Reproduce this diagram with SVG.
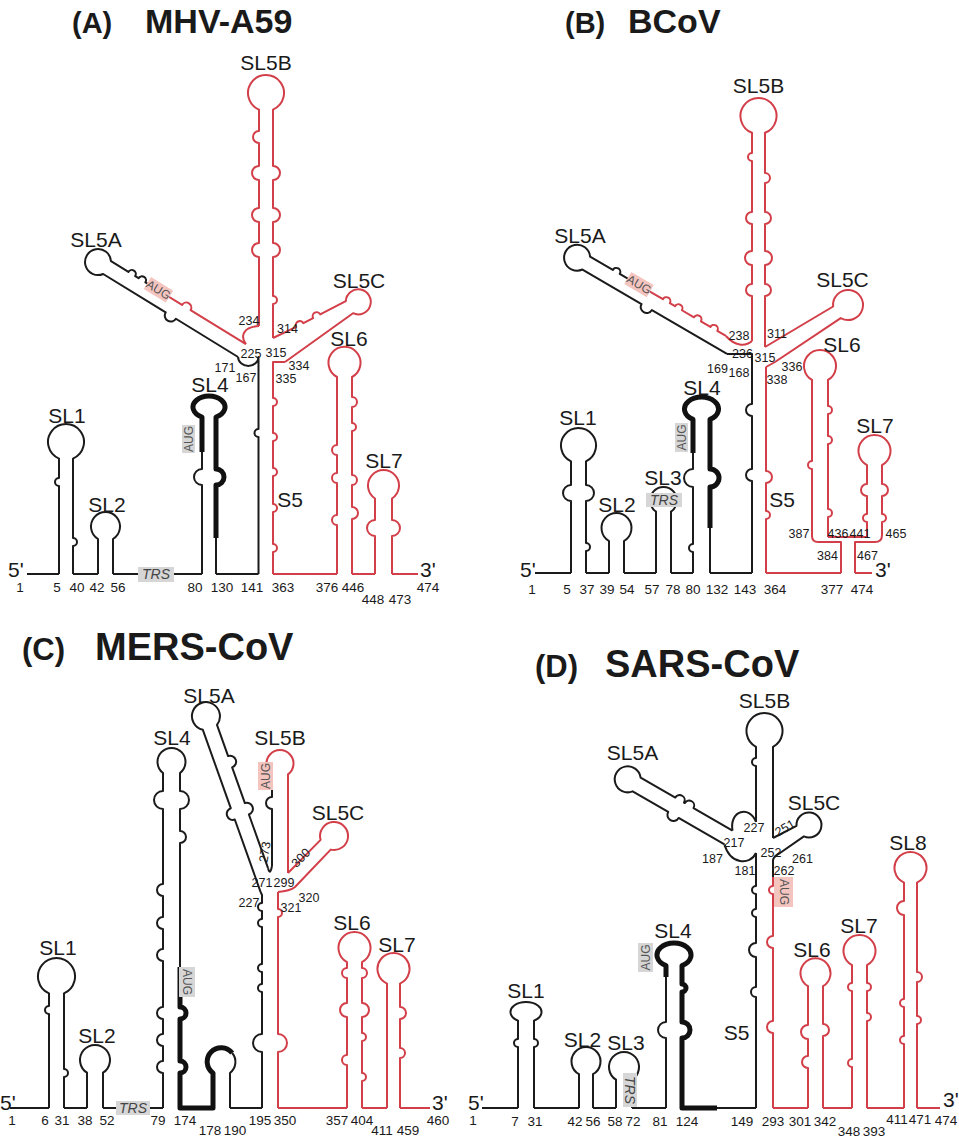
<svg xmlns="http://www.w3.org/2000/svg" width="959" height="1137" viewBox="0 0 959 1137">
<style>
.k{fill:none;stroke:#1b1b1b;stroke-width:2;stroke-linejoin:round}
.r{fill:none;stroke:#d33f49;stroke-width:2;stroke-linejoin:round}
.th{fill:none;stroke:#111;stroke-width:5;stroke-linejoin:round}
text{font-family:"Liberation Sans",Arial,sans-serif;fill:#1a1a1a}
.lb{font-size:21px;text-anchor:middle}
.ls{font-size:21px}
.n{font-size:13.5px;text-anchor:middle}
.nj{font-size:12.5px;text-anchor:middle}
.tt{font-weight:bold;font-size:34px}
.tp{font-weight:bold;font-size:29px}
.tt2{font-weight:bold;font-size:38px}
.tp2{font-weight:bold;font-size:31px}
.gb{fill:#d6d6d6}
.pb{fill:#f4c4bf}
.bx{font-size:12px;text-anchor:middle;fill:#555}
.trs{font-size:14px;font-style:italic;text-anchor:middle;fill:#444}
</style>
<rect width="959" height="1137" fill="#fff"/>

<!-- ================= PANEL A ================= -->
<g id="A-title"><text class="tp" x="72" y="33">(A)</text><text class="tt" x="145" y="33">MHV-A59</text></g>
<g id="A-connectors">
<path class="k" d="M27,574 H59 M73,574 H98 M113,574 H138 M174,574 H202 M216,574 H258.5"/>
<path class="r" d="M273,574 H337 M352,574 H375 M392,574 H418"/>
<path class="r" d="M245.9,344.2 C240,336 243,327 259,326"/>
<rect class="gb" x="138" y="567" width="36" height="15"/><text class="trs" x="156" y="579">TRS</text>
</g>
<g id="A-SL1"><path class="k" d="M59,574 V486 A4,4 0 0 1 59,478 V458.6 A18,18 0 1 1 73,458.6 V538 A4,4 0 0 1 73,546 V574"/><text class="lb" x="67" y="423">SL1</text></g>
<g id="A-SL2"><path class="k" d="M98,574 V539 A14.5,14.5 0 1 1 113,539 V574"/><text class="lb" x="107" y="512">SL2</text></g>
<g id="A-SL4">
<path class="k" d="M202,574 V485 A8,8 0 0 1 202,469 V452"/>
<path class="th" d="M202,452 V417 A16,11 0 1 1 216,417 V469 A8,8 0 0 1 216,485 V538"/>
<path class="k" d="M216,538 V574"/>
<rect class="gb" x="182" y="425" width="13" height="28"/><text class="bx" transform="translate(188.5,439) rotate(-90)" y="4">AUG</text>
<text class="lb" x="210" y="392">SL4</text></g>
<g id="A-SL5A" transform="translate(242,350.6) rotate(-58.4)">
<path class="k" d="M-7.5,0 V-73 A6,6 0 0 1 -7.5,-85 V-158.4 A13,13 0 1 1 7.5,-158.4 V-138 A4,4 0 0 1 7.5,-130 V-126 A4,4 0 0 1 7.5,-118 V-102"/>
<path class="r" d="M7.5,-102 V-75 A5,5 0 0 1 7.5,-65 V0"/>
<rect class="pb" x="1" y="-116" width="14" height="26"/><text class="bx" transform="translate(8,-103) rotate(90)" y="4">AUG</text>
</g>
<text class="lb" x="96" y="247">SL5A</text>
<g id="A-SL5B"><path class="r" d="M259,326 V257 A7,7 0 0 1 259,243 V222 A7,7 0 0 1 259,208 V180 A7,7 0 0 1 259,166 V143 A6,6 0 0 1 259,131 V109.6 A18,18 0 1 1 273,109.6 V166 A7,7 0 0 1 273,180 V208 A7,7 0 0 1 273,222 V243 A7,7 0 0 1 273,257 V296 A4,4 0 0 1 273,304 V338"/><text class="lb" x="266" y="70">SL5B</text></g>
<g id="A-SL5C"><path class="r" d="M273,338 L296.3,326.9 A4,4 0 0 1 303.4,323.2 L313.1,318.1 A4,4 0 0 1 320.2,314.4 L345.8,301.1 A12.5,12.5 0 1 1 353,313.2 L285,362"/><text class="lb" x="359" y="288">SL5C</text></g>
<g id="A-S5">
<path class="k" d="M238.1,357 A10.2,9 0 0 0 258.5,357 V429 A4,4 0 0 0 258.5,437 V574"/>
<path class="r" d="M285,362 H273 V398 A4,4 0 0 1 273,406 V433 A4,4 0 0 1 273,441 V468 A4,4 0 0 1 273,476 V504 A4,4 0 0 1 273,512 V544 A4,4 0 0 1 273,552 V574"/>
<text class="lb" x="290" y="507">S5</text></g>
<g id="A-SL6"><path class="r" d="M337,574 V525 A5,5 0 0 1 337,515 V483 A5,5 0 0 1 337,473 V455 A5,5 0 0 1 337,445 V377 A16,16 0 1 1 352,377 V397 A5,5 0 0 1 352,407 V423 A4,4 0 0 1 352,431 V475 A5,5 0 0 1 352,485 V507 A6,6 0 0 1 352,519 V574"/><text class="lb" x="349" y="346">SL6</text></g>
<g id="A-SL7"><path class="r" d="M375,574 V536 A8,8 0 0 1 375,520 V498.5 A15.5,15.5 0 1 1 392,498.5 V520 A8,8 0 0 1 392,536 V574"/><text class="lb" x="384" y="468">SL7</text></g>
<g id="A-labels">
<text class="ls" x="8" y="577">5'</text><text class="ls" x="420" y="577">3'</text>
<text class="n" x="20" y="592">1</text><text class="n" x="57" y="592">5</text><text class="n" x="77" y="592">40</text><text class="n" x="97" y="592">42</text><text class="n" x="118" y="592">56</text><text class="n" x="195" y="592">80</text><text class="n" x="222" y="592">130</text><text class="n" x="252" y="592">141</text><text class="n" x="283" y="592">363</text><text class="n" x="327" y="592">376</text><text class="n" x="353" y="592">446</text><text class="n" x="373" y="604">448</text><text class="n" x="400" y="604">473</text><text class="n" x="428" y="592">474</text>
<text class="nj" x="249" y="325">234</text><text class="nj" x="251" y="358">225</text><text class="nj" x="276" y="357">315</text><text class="nj" x="287.5" y="333">314</text><text class="nj" x="225" y="372">171</text><text class="nj" x="246" y="382">167</text><text class="nj" x="299" y="370">334</text><text class="nj" x="286" y="383">335</text>
</g>

<!-- ================= PANEL B ================= -->
<g id="B-title"><text class="tp" x="565" y="33">(B)</text><text class="tt" x="628" y="33">BCoV</text></g>
<g id="B-connectors">
<path class="k" d="M535,573 H571 M586,573 H609 M624,573 H656 M671,573 H693 M710,573 H752"/>
<path class="r" d="M766,573 H841 M855,573 H872 M841,573 V542 H818 Q812,542 812,536 M828,537 H867 M882,535 Q882,542 875,542 H855 V573"/>
<path class="r" d="M725.9,336 C735,346 745,347 752,341"/>
</g>
<g id="B-SL1"><path class="k" d="M571,573 V501 A8,8 0 0 1 571,485 V461.3 A17.5,17.5 0 1 1 586,461.3 V485 A8,8 0 0 1 586,501 V543 A4,4 0 0 1 586,551 V573"/><text class="lb" x="578" y="425">SL1</text></g>
<g id="B-SL2"><path class="k" d="M609,573 V541 A15,15 0 1 1 624,541 V573"/><text class="lb" x="617" y="512">SL2</text></g>
<g id="B-SL3"><path class="k" d="M656,573 V511.7 A13.5,13.5 0 1 1 671,511.7 V573"/><rect class="gb" x="646" y="493" width="36" height="14"/><text class="trs" x="664" y="505">TRS</text><text class="lb" x="663" y="485">SL3</text></g>
<g id="B-SL4">
<path class="k" d="M693,573 V552 A4,4 0 0 1 693,544 V487 A9,9 0 0 1 693,469 V453"/>
<path class="th" d="M693,453 V419.4 A17,12 0 1 1 710,419.4 V469 A9,9 0 0 1 710,487 V528"/>
<path class="k" d="M710,528 V573"/>
<rect class="gb" x="675" y="423" width="13" height="29"/><text class="bx" transform="translate(681.5,437.5) rotate(-90)" y="4">AUG</text>
<text class="lb" x="702" y="395">SL4</text></g>
<g id="B-SL5A" transform="translate(730.8,347.5) rotate(-59.7)">
<path class="k" d="M-7.5,0 V-87 A6,6 0 0 1 -7.5,-99 V-167.4 A13,13 0 1 1 7.5,-167.4 V-141 A4,4 0 0 1 7.5,-133 V-110"/>
<path class="r" d="M7.5,-110 V-83 A4,4 0 0 1 7.5,-75 V-69 A4,4 0 0 1 7.5,-61 V-47 A4,4 0 0 1 7.5,-39 V-28 A4,4 0 0 1 7.5,-20 V-10"/>
<rect class="pb" x="1" y="-124" width="14" height="26"/><text class="bx" transform="translate(8,-111) rotate(90)" y="4">AUG</text>
</g>
<text class="lb" x="580" y="243">SL5A</text>
<g id="B-SL5B"><path class="r" d="M752,341 V296 A6,6 0 0 1 752,284 V265 A7,7 0 0 1 752,251 V224 A6,6 0 0 1 752,212 V161 A4,4 0 0 1 752,153 V132.8 A18,18 0 1 1 765,132.8 V173 A5,5 0 0 1 765,183 V212 A6,6 0 0 1 765,224 V251 A7,7 0 0 1 765,265 V284 A6,6 0 0 1 765,296 V347"/><text class="lb" x="758.5" y="93">SL5B</text></g>
<g id="B-SL5C"><path class="r" d="M765,347 L833.1,306.5 A15,15 0 1 1 840.7,318.1 L775,362 L766,367"/><text class="lb" x="842.5" y="287">SL5C</text></g>
<g id="B-S5">
<path class="k" d="M727,354 H752 V404 A6,6 0 0 0 752,416 V469 A6,6 0 0 0 752,481 V573"/>
<path class="r" d="M766,367 V471 A6,6 0 0 1 766,483 V511 A4,4 0 0 1 766,519 V573"/>
<text class="lb" x="782" y="507">S5</text></g>
<g id="B-SL6"><path class="r" d="M812,537 V469 A4,4 0 0 1 812,461 V379.9 A16,16 0 1 1 828,379.9 V406 A4,4 0 0 1 828,414 V436 A4,4 0 0 1 828,444 V509 A4,4 0 0 1 828,517 V537"/><text class="lb" x="842" y="352">SL6</text></g>
<g id="B-SL7"><path class="r" d="M867,537 V522 A4,4 0 0 1 867,514 V496 A6,6 0 0 1 867,484 V465.1 A16,16 0 1 1 882,465.1 V484 A6,6 0 0 1 882,496 V514 A4,4 0 0 1 882,522 V535"/><text class="lb" x="875" y="433">SL7</text></g>
<g id="B-labels">
<text class="ls" x="520" y="577">5'</text><text class="ls" x="875" y="577">3'</text>
<text class="n" x="532" y="594">1</text><text class="n" x="567" y="594">5</text><text class="n" x="587" y="594">37</text><text class="n" x="607" y="594">39</text><text class="n" x="627" y="594">54</text><text class="n" x="652" y="594">57</text><text class="n" x="673" y="594">78</text><text class="n" x="693" y="594">80</text><text class="n" x="717" y="594">132</text><text class="n" x="745" y="594">143</text><text class="n" x="775" y="594">364</text><text class="n" x="832" y="594">377</text><text class="n" x="862" y="594">474</text>
<text class="nj" x="739" y="340">238</text><text class="nj" x="777" y="338">311</text><text class="nj" x="742.5" y="358">236</text><text class="nj" x="765" y="362">315</text><text class="nj" x="717.5" y="373">169</text><text class="nj" x="739" y="377">168</text><text class="nj" x="792" y="371">336</text><text class="nj" x="777" y="384">338</text>
<text class="nj" x="799" y="538">387</text><text class="nj" x="827.5" y="560">384</text><text class="nj" x="838" y="538">436</text><text class="nj" x="860" y="538">441</text><text class="nj" x="896" y="538">465</text><text class="nj" x="867.5" y="560">467</text>
</g>

<!-- ================= PANEL C ================= -->
<g id="C-title"><text class="tp2" x="22" y="660">(C)</text><text class="tt2" x="95" y="660">MERS-CoV</text></g>
<g id="C-connectors">
<path class="k" d="M10,1108 H49 M64,1108 H87 M103,1108 H116 M150,1108 H163 M230,1108 H262"/>
<path class="r" d="M278,1108 H347 M362,1108 H387 M400,1108 H430"/>
<path class="k" d="M268.05,868.2 Q270,876 272,866"/>
<rect class="gb" x="116" y="1101" width="34" height="14"/><text class="trs" x="133" y="1113">TRS</text>
</g>
<g id="C-SL1"><path class="k" d="M49,1108 V1014 A4,4 0 0 1 49,1006 V993.4 A18.5,18.5 0 1 1 64,993.4 V1069 A4,4 0 0 1 64,1077 V1108"/><text class="lb" x="58" y="955">SL1</text></g>
<g id="C-SL2"><path class="k" d="M87,1108 V1072.7 A15,15 0 1 1 103,1072.7 V1108"/><text class="lb" x="97" y="1043">SL2</text></g>
<g id="C-SL4">
<path class="k" d="M163,1108 V1073 A6,6 0 0 1 163,1061 V1046 A6,6 0 0 1 163,1034 V1019 A6,6 0 0 1 163,1007 V961 A6,6 0 0 1 163,949 V929 A6,6 0 0 1 163,917 V896 A6,6 0 0 1 163,884 V809 A9,9 0 0 1 163,791 V773 A14,14 0 1 1 180,773 V791 A9,9 0 0 1 180,809 V831 A6,6 0 0 1 180,843 V967"/>
<path class="th" d="M180,967 V1007 A6,6 0 0 1 180,1019 V1061 A6,6 0 0 1 180,1073 V1108 H213 V1073 A14,14 0 1 1 232.2,1053"/>
<path class="k" d="M232.2,1053 A14,14 0 0 1 230,1073 V1108"/>
<rect class="gb" x="179" y="967" width="16" height="30"/><text class="bx" transform="translate(187,982) rotate(90)" y="4">AUG</text>
<text class="lb" x="172" y="745">SL4</text></g>
<g id="C-SL5A" transform="translate(265,882) rotate(-19.6)">
<path class="k" d="M-7.5,8 V-69 A6,6 0 0 1 -7.5,-81 V-164.2 A14,14 0 1 1 7.5,-164.2 V-131 A6,6 0 0 1 7.5,-119 V-81 A6,6 0 0 1 7.5,-69 V-12"/>
</g>
<text class="lb" x="209" y="703">SL5A</text>
<g id="C-SL5B">
<path class="k" d="M272,866 V809 A6,6 0 0 1 272,797 V788"/>
<path class="r" d="M272,790 V774.4 A13.5,13.5 0 1 1 288,774.4 V873"/>
<rect class="pb" x="258" y="762" width="15" height="28"/><text class="bx" transform="translate(265.5,776) rotate(-90)" y="4">AUG</text>
<text class="lb" x="280" y="745">SL5B</text></g>
<g id="C-SL5C"><path class="r" d="M288,873 L320.6,839.9 A14,14 0 1 1 330.7,849.6 L295,887 Q290,891 278,892"/><text class="lb" x="338" y="820">SL5C</text></g>
<g id="C-S5">
<path class="k" d="M260.6,892 L262,895 V903 A4,4 0 0 0 262,911 V919 A4,4 0 0 0 262,927 V964 A4,4 0 0 0 262,972 V984 A4,4 0 0 0 262,992 V1034 A9,9 0 0 0 262,1052 V1108"/>
<path class="r" d="M278,892 V909 A4,4 0 0 1 278,917 V1034 A9,9 0 0 1 278,1052 V1108"/>
</g>
<g id="C-SL6"><path class="r" d="M347,1108 V1065 A5,5 0 0 1 347,1055 V1017 A7,7 0 0 1 347,1003 V978 A5,5 0 0 1 347,968 V962.1 A16,16 0 1 1 362,962.1 V968 A5,5 0 0 1 362,978 V1003 A7,7 0 0 1 362,1017 V1033 A4,4 0 0 1 362,1041 V1073 A4,4 0 0 1 362,1081 V1108"/><text class="lb" x="352" y="930">SL6</text></g>
<g id="C-SL7"><path class="r" d="M387,1108 V983.6 A16,16 0 1 1 400,983.6 V1007 A6,6 0 0 1 400,1019 V1048 A5,5 0 0 1 400,1058 V1108"/><text class="lb" x="397" y="952">SL7</text></g>
<g id="C-labels">
<text class="ls" x="0" y="1110">5'</text><text class="ls" x="432" y="1110">3'</text>
<text class="n" x="12" y="1125">1</text><text class="n" x="45" y="1125">6</text><text class="n" x="62" y="1125">31</text><text class="n" x="85" y="1125">38</text><text class="n" x="107" y="1125">52</text><text class="n" x="158" y="1125">79</text><text class="n" x="185" y="1125">174</text><text class="n" x="260" y="1125">195</text><text class="n" x="285" y="1125">350</text><text class="n" x="337" y="1125">357</text><text class="n" x="362" y="1125">404</text><text class="n" x="438" y="1125">460</text>
<text class="n" x="210" y="1135">178</text><text class="n" x="235" y="1135">190</text><text class="n" x="382" y="1135">411</text><text class="n" x="408" y="1135">459</text>
<text class="nj" transform="translate(265,852) rotate(-80)" y="4">273</text><text class="nj" transform="translate(301,858) rotate(-45)" y="4">300</text>
<text class="nj" x="262" y="887">271</text><text class="nj" x="284" y="887">299</text><text class="nj" x="249" y="907">227</text><text class="nj" x="309" y="902">320</text><text class="nj" x="291" y="912">321</text>
</g>

<!-- ================= PANEL D ================= -->
<g id="D-title"><text class="tp2" x="535" y="677">(D)</text><text class="tt2" x="605" y="677">SARS-CoV</text></g>
<g id="D-connectors">
<path class="k" d="M482,1108 H518 M534,1108 H579 M593,1108 H616 M632,1108 H666 M717,1108 H756"/>
<path class="r" d="M773,1108 H808 M823,1108 H852 M867,1108 H904 M917,1108 H940"/>
<path class="k" d="M756,853 C750,866 730,864 724.5,844.4 M732.5,830.6 C729,810 750,805 756,822"/>
</g>
<g id="D-SL1"><path class="k" d="M518,1108 V1047 A4,4 0 0 1 518,1039 V1020.6 A15.5,10 0 1 1 534,1020.6 V1039 A4,4 0 0 1 534,1047 V1108"/><text class="lb" x="526" y="998">SL1</text></g>
<g id="D-SL2"><path class="k" d="M579,1108 V1074.2 A14.5,14.5 0 1 1 593,1074.2 V1108"/><text class="lb" x="582.5" y="1047">SL2</text></g>
<g id="D-SL3"><path class="k" d="M616,1108 V1079.7 A15,15 0 1 1 632,1079.7 V1108"/><rect class="gb" x="623" y="1073" width="14" height="34"/><text class="trs" transform="translate(630,1090) rotate(90)" y="5">TRS</text><text class="lb" x="626" y="1050">SL3</text></g>
<g id="D-SL4">
<path class="k" d="M666,1108 V1038 A8,8 0 0 1 666,1022 V977"/>
<path class="th" d="M666,977 V965.6 A17,12 0 1 1 682,965.6 V984 A4,4 0 0 1 682,992 V1022 A8,8 0 0 1 682,1038 V1108 H717"/>
<rect class="gb" x="638" y="943" width="15" height="29"/><text class="bx" transform="translate(645.5,957.5) rotate(-90)" y="4">AUG</text>
<text class="lb" x="673" y="938">SL4</text></g>
<g id="D-SL5A" transform="translate(728.5,837.5) rotate(-60)">
<path class="k" d="M-8,0 V-53 A6,6 0 0 1 -8,-65 V-106.1 A13,13 0 1 1 8,-106.1 V-66 A5,5 0 0 1 8,-56 V-55 A5,5 0 0 1 8,-45 V0"/>
</g>
<text class="lb" x="632.5" y="760">SL5A</text>
<g id="D-SL5B"><path class="k" d="M756,822 V766 A4,4 0 0 1 756,758 V746.9 A18,18 0 1 1 773,746.9 V838"/><text class="lb" x="764.5" y="708">SL5B</text></g>
<g id="D-SL5C"><path class="k" d="M773,838 L796.5,825.8 A12.5,12.5 0 1 1 803.9,836.4 L780,853 Q774,856 773,860 V877"/><text class="lb" x="814" y="810">SL5C</text></g>
<g id="D-S5">
<path class="k" d="M756,1108 V997 A5,5 0 0 1 756,987 V957 A7,7 0 0 1 756,943 V917 A4,4 0 0 1 756,909 V894 A4,4 0 0 1 756,886 V853"/>
<path class="r" d="M773,877 V886 A4,4 0 0 0 773,894 V936 A6,6 0 0 0 773,948 V1021 A6,6 0 0 0 773,1033 V1108"/>
<rect class="pb" x="774" y="877" width="19" height="30"/><text class="bx" transform="translate(783.5,892) rotate(90)" y="4">AUG</text>
<text class="lb" x="736.5" y="1040">S5</text></g>
<g id="D-SL6"><path class="r" d="M808,1108 V1068 A6,6 0 0 1 808,1056 V1039 A7,7 0 0 1 808,1025 V986.2 A15,15 0 1 1 823,986.2 V1024 A6,6 0 0 1 823,1036 V1108"/><text class="lb" x="812" y="957">SL6</text></g>
<g id="D-SL7"><path class="r" d="M852,1108 V1067 A4,4 0 0 1 852,1059 V991 A4,4 0 0 1 852,983 V965.1 A16,16 0 1 1 867,965.1 V983 A4,4 0 0 1 867,991 V1013 A4,4 0 0 1 867,1021 V1108"/><text class="lb" x="859" y="933">SL7</text></g>
<g id="D-SL8"><path class="r" d="M904,1108 V1044 A4,4 0 0 1 904,1036 V1007 A4,4 0 0 1 904,999 V915 A7,7 0 0 1 904,901 V882.6 A16,16 0 1 1 917,882.6 V972 A5,5 0 0 1 917,982 V1016 A4,4 0 0 1 917,1024 V1108"/><text class="lb" x="908" y="850">SL8</text></g>
<g id="D-labels">
<text class="ls" x="468" y="1110">5'</text><text class="ls" x="943" y="1107">3'</text>
<text class="n" x="473" y="1125">1</text><text class="n" x="515" y="1126">7</text><text class="n" x="535" y="1126">31</text><text class="n" x="575" y="1126">42</text><text class="n" x="593" y="1126">56</text><text class="n" x="615" y="1126">58</text><text class="n" x="633" y="1126">72</text><text class="n" x="660" y="1126">81</text><text class="n" x="687" y="1126">124</text><text class="n" x="742" y="1126">149</text><text class="n" x="773" y="1126">293</text><text class="n" x="800" y="1126">301</text><text class="n" x="825" y="1126">342</text>
<text class="n" x="849" y="1136">348</text><text class="n" x="874" y="1136">393</text><text class="n" x="897" y="1124">411</text><text class="n" x="920" y="1124">471</text><text class="n" x="946" y="1125">474</text>
<text class="nj" x="754" y="832">227</text><text class="nj" transform="translate(785,828) rotate(-30)" y="4">251</text><text class="nj" x="734" y="847">217</text><text class="nj" x="771" y="857">252</text><text class="nj" x="712.5" y="863">187</text><text class="nj" x="802.5" y="863">261</text><text class="nj" x="745" y="875">181</text><text class="nj" x="784" y="875">262</text>
</g>
</svg>
